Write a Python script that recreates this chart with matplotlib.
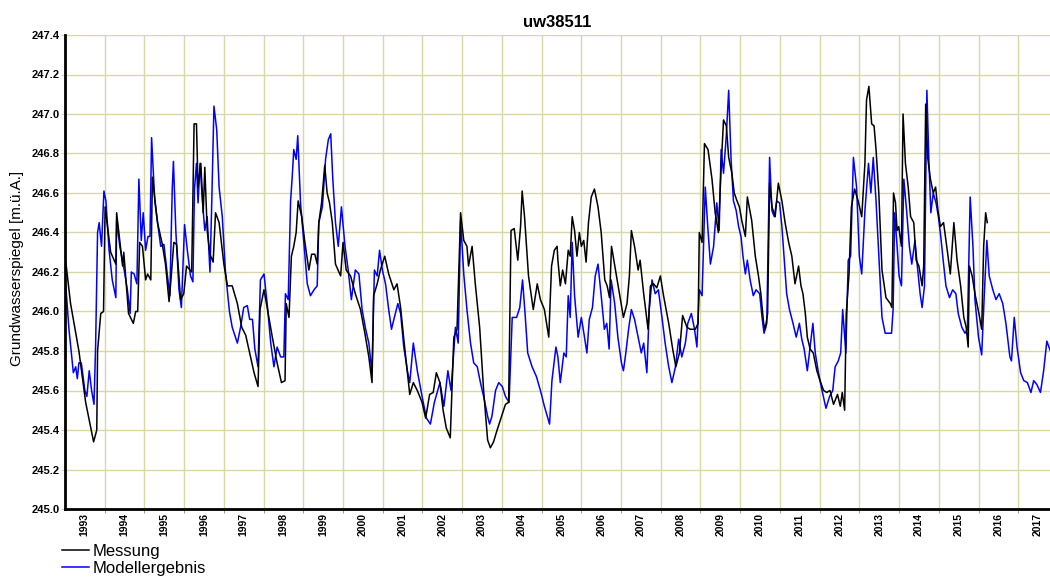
import numpy as np
import matplotlib
matplotlib.use("Agg")
import matplotlib.pyplot as plt

plt.rcParams['font.family'] = ['Liberation Sans', 'DejaVu Sans']

# Messung (decimal year, m.ü.A.)
mess_t = [1993.02, 1993.14, 1993.35, 1993.52, 1993.72, 1993.80, 1993.82, 1993.90, 1993.97, 1994.01,
          1994.15, 1994.28, 1994.30, 1994.45, 1994.48, 1994.60, 1994.72, 1994.78, 1994.83, 1994.88,
          1994.95, 1995.03, 1995.08, 1995.16, 1995.20, 1995.33, 1995.45, 1995.53, 1995.62, 1995.66,
          1995.74, 1995.81, 1995.91, 1995.99, 1996.06, 1996.19, 1996.25, 1996.31, 1996.35, 1996.42,
          1996.48, 1996.52, 1996.58, 1996.65, 1996.73, 1996.79, 1996.88, 1997.00, 1997.09, 1997.21,
          1997.34, 1997.45, 1997.55, 1997.65, 1997.76, 1997.86, 1997.91, 1998.01, 1998.09, 1998.22,
          1998.34, 1998.45, 1998.54, 1998.57, 1998.64, 1998.70, 1998.76, 1998.82, 1998.87, 1998.96,
          1999.04, 1999.14, 1999.21, 1999.29, 1999.35, 1999.39, 1999.46, 1999.49, 1999.54, 1999.60,
          1999.66, 1999.73, 1999.81, 1999.94, 2000.00, 2000.08, 2000.19, 2000.31, 2000.44, 2000.55,
          2000.65, 2000.73, 2000.77, 2000.86, 2000.94, 2001.05, 2001.15, 2001.28, 2001.36, 2001.45,
          2001.53, 2001.62, 2001.68, 2001.77, 2001.87, 2001.99, 2002.08, 2002.18, 2002.27, 2002.35,
          2002.44, 2002.52, 2002.60, 2002.70, 2002.79, 2002.87, 2002.96, 2003.04, 2003.12, 2003.16,
          2003.25, 2003.33, 2003.44, 2003.54, 2003.64, 2003.71, 2003.79, 2003.88, 2003.96, 2004.09,
          2004.17, 2004.23, 2004.31, 2004.40, 2004.47, 2004.51, 2004.57, 2004.67, 2004.79, 2004.89,
          2004.97, 2005.07, 2005.18, 2005.25, 2005.32, 2005.39, 2005.41, 2005.47, 2005.53, 2005.60,
          2005.67, 2005.72, 2005.77, 2005.83, 2005.89, 2005.95, 2006.00, 2006.06, 2006.12, 2006.18,
          2006.25, 2006.33, 2006.42, 2006.50, 2006.59, 2006.65, 2006.71, 2006.76, 2006.86, 2006.96,
          2007.06, 2007.15, 2007.21, 2007.26, 2007.34, 2007.43, 2007.48, 2007.57, 2007.68, 2007.74,
          2007.82, 2007.90, 2007.99, 2008.07, 2008.20, 2008.30, 2008.38, 2008.47, 2008.55, 2008.66,
          2008.74, 2008.87, 2008.94, 2008.97, 2009.04, 2009.10, 2009.19, 2009.29, 2009.37, 2009.45,
          2009.52, 2009.58, 2009.65, 2009.71, 2009.79, 2009.85, 2009.92, 2009.98, 2010.04, 2010.13,
          2010.18, 2010.29, 2010.38, 2010.46, 2010.52, 2010.59, 2010.63, 2010.69, 2010.74, 2010.80,
          2010.88, 2010.96, 2011.05, 2011.13, 2011.22, 2011.30, 2011.38, 2011.47, 2011.53, 2011.58,
          2011.64, 2011.69, 2011.76, 2011.84, 2011.93, 2012.01, 2012.10, 2012.18, 2012.26, 2012.35,
          2012.45, 2012.52, 2012.57, 2012.63, 2012.67, 2012.74, 2012.80, 2012.88, 2012.97, 2013.06,
          2013.14, 2013.18, 2013.24, 2013.31, 2013.37, 2013.42, 2013.49, 2013.57, 2013.67, 2013.78,
          2013.82, 2013.86, 2013.91, 2013.95, 2013.99, 2014.06, 2014.10, 2014.16, 2014.23, 2014.29,
          2014.37, 2014.43, 2014.50, 2014.58, 2014.62, 2014.67, 2014.72, 2014.79, 2014.86, 2014.92,
          2014.98, 2015.04, 2015.12, 2015.20, 2015.29, 2015.38, 2015.46, 2015.55, 2015.63, 2015.69,
          2015.74, 2015.77, 2015.84, 2015.92, 2016.01, 2016.08, 2016.13, 2016.18, 2016.22]
mess_v = [246.25, 246.04, 245.80, 245.54, 245.34, 245.40, 245.80, 245.99, 246.00, 246.53,
          246.30, 246.24, 246.50, 246.23, 246.30, 245.99, 245.94, 246.00, 246.00, 246.35,
          246.33, 246.16, 246.19, 246.16, 246.68, 246.45, 246.34, 246.24, 246.05, 246.14,
          246.35, 246.34, 246.06, 246.09, 246.23, 246.20, 246.95, 246.95, 246.63, 246.75,
          246.50, 246.73, 246.41, 246.29, 246.25, 246.50, 246.45, 246.24, 246.13, 246.13,
          246.04, 245.92, 245.88, 245.79, 245.69, 245.62, 246.01, 246.11, 246.02, 245.87,
          245.74, 245.64, 245.65, 246.04, 245.97, 246.28, 246.33, 246.40, 246.56, 246.48,
          246.35, 246.21, 246.29, 246.29, 246.24, 246.45, 246.55, 246.62, 246.74, 246.60,
          246.55, 246.45, 246.24, 246.18, 246.35, 246.21, 246.18, 246.09, 246.01, 245.89,
          245.77, 245.64, 246.08, 246.14, 246.21, 246.28, 246.19, 246.11, 246.14, 246.02,
          245.86, 245.69, 245.58, 245.64, 245.60, 245.54, 245.46, 245.58, 245.59, 245.69,
          245.64, 245.50, 245.41, 245.36, 245.87, 245.91, 246.50, 246.36, 246.33, 246.23,
          246.33, 246.14, 245.92, 245.60, 245.35, 245.31, 245.34, 245.40, 245.45, 245.53,
          245.54, 246.41, 246.42, 246.26, 246.43, 246.61, 246.48, 246.18, 246.01, 246.14,
          246.06, 246.01, 245.87, 246.23, 246.31, 246.33, 246.26, 246.13, 246.21, 246.14,
          246.31, 246.28, 246.48, 246.41, 246.28, 246.40, 246.33, 246.36, 246.25, 246.45,
          246.58, 246.62, 246.53, 246.40, 246.16, 246.13, 246.07, 246.33, 246.21, 246.09,
          245.97, 246.04, 246.18, 246.41, 246.33, 246.21, 246.26, 246.09, 245.91, 246.13,
          246.14, 246.12, 246.18, 246.08, 245.94, 245.81, 245.72, 245.79, 245.98, 245.92,
          245.91, 245.91, 245.94, 246.40, 246.35, 246.85, 246.82, 246.67, 246.50, 246.40,
          246.73, 246.97, 246.94, 246.78, 246.70, 246.60, 246.56, 246.53, 246.46, 246.38,
          246.58, 246.46, 246.28, 246.18, 246.09, 245.94, 245.91, 245.99, 246.65, 246.53,
          246.48, 246.65, 246.56, 246.45, 246.35, 246.28, 246.14, 246.23, 246.13, 246.09,
          245.99, 245.87, 245.81, 245.79, 245.70, 245.65, 245.60, 245.59, 245.60, 245.53,
          245.58, 245.52, 245.59, 245.50, 245.99, 246.19, 246.53, 246.62, 246.56, 246.48,
          246.75, 247.07, 247.14, 246.95, 246.94, 246.82, 246.60, 246.21, 246.07, 246.04,
          246.02, 246.60, 246.55, 246.41, 246.43, 246.33, 247.00, 246.75, 246.63, 246.48,
          246.45, 246.26, 246.23, 246.13, 246.23, 247.05, 246.78, 246.67, 246.60, 246.63,
          246.51, 246.43, 246.45, 246.33, 246.19, 246.45, 246.26, 246.13, 245.97, 245.92,
          245.82, 246.23, 246.18, 246.08, 245.99, 245.91, 246.33, 246.50, 246.45]

# Modellergebnis
mod_t = [1993.02, 1993.10, 1993.21, 1993.27, 1993.31, 1993.35, 1993.41, 1993.50, 1993.55, 1993.61,
         1993.67, 1993.73, 1993.77, 1993.82, 1993.86, 1993.92, 1993.98, 1994.03, 1994.11, 1994.19,
         1994.28, 1994.30, 1994.38, 1994.49, 1994.57, 1994.64, 1994.67, 1994.74, 1994.81, 1994.86,
         1994.92, 1994.97, 1995.03, 1995.09, 1995.14, 1995.18, 1995.26, 1995.33, 1995.41, 1995.49,
         1995.58, 1995.64, 1995.70, 1995.73, 1995.79, 1995.87, 1995.93, 1996.01, 1996.08, 1996.16,
         1996.22, 1996.26, 1996.31, 1996.35, 1996.40, 1996.46, 1996.52, 1996.58, 1996.65, 1996.69,
         1996.75, 1996.82, 1996.88, 1996.96, 1997.04, 1997.14, 1997.21, 1997.34, 1997.42, 1997.50,
         1997.59, 1997.65, 1997.72, 1997.78, 1997.86, 1997.92, 1998.01, 1998.09, 1998.18, 1998.26,
         1998.34, 1998.43, 1998.51, 1998.55, 1998.62, 1998.68, 1998.72, 1998.76, 1998.82, 1998.86,
         1998.93, 1999.01, 1999.10, 1999.18, 1999.27, 1999.35, 1999.39, 1999.48, 1999.56, 1999.63,
         1999.69, 1999.74, 1999.81, 1999.88, 1999.96, 2000.05, 2000.13, 2000.21, 2000.31, 2000.40,
         2000.48, 2000.57, 2000.65, 2000.73, 2000.79, 2000.86, 2000.92, 2000.99, 2001.07, 2001.15,
         2001.22, 2001.28, 2001.38, 2001.45, 2001.53, 2001.62, 2001.68, 2001.77, 2001.87, 2001.99,
         2002.10, 2002.20, 2002.30, 2002.44, 2002.54, 2002.64, 2002.72, 2002.83, 2002.90, 2002.96,
         2003.04, 2003.12, 2003.21, 2003.29, 2003.38, 2003.46, 2003.54, 2003.64, 2003.69, 2003.75,
         2003.84, 2003.92, 2004.01, 2004.09, 2004.18, 2004.26, 2004.37, 2004.45, 2004.52, 2004.59,
         2004.65, 2004.76, 2004.87, 2004.97, 2005.07, 2005.20, 2005.26, 2005.36, 2005.41, 2005.47,
         2005.56, 2005.62, 2005.67, 2005.72, 2005.77, 2005.83, 2005.92, 2006.00, 2006.08, 2006.14,
         2006.20, 2006.28, 2006.35, 2006.42, 2006.50, 2006.58, 2006.64, 2006.70, 2006.75, 2006.84,
         2006.92, 2007.01, 2007.06, 2007.12, 2007.19, 2007.26, 2007.34, 2007.43, 2007.51, 2007.57,
         2007.65, 2007.71, 2007.78, 2007.86, 2007.94, 2008.03, 2008.11, 2008.20, 2008.28, 2008.37,
         2008.45, 2008.53, 2008.62, 2008.68, 2008.77, 2008.85, 2008.91, 2008.97, 2009.04, 2009.12,
         2009.19, 2009.25, 2009.33, 2009.41, 2009.47, 2009.52, 2009.58, 2009.65, 2009.71, 2009.77,
         2009.83, 2009.90, 2009.96, 2010.02, 2010.07, 2010.13, 2010.18, 2010.25, 2010.33, 2010.40,
         2010.49, 2010.55, 2010.60, 2010.67, 2010.74, 2010.80, 2010.86, 2010.92, 2010.99, 2011.05,
         2011.11, 2011.17, 2011.24, 2011.33, 2011.41, 2011.49, 2011.55, 2011.61, 2011.69, 2011.76,
         2011.83, 2011.89, 2011.97, 2012.06, 2012.16, 2012.25, 2012.33, 2012.39, 2012.47, 2012.53,
         2012.58, 2012.66, 2012.72, 2012.78, 2012.85, 2012.93, 2013.00, 2013.06, 2013.14, 2013.23,
         2013.29, 2013.35, 2013.42, 2013.51, 2013.57, 2013.65, 2013.81, 2013.85, 2013.89, 2013.95,
         2014.00, 2014.06, 2014.12, 2014.19, 2014.26, 2014.32, 2014.40, 2014.46, 2014.53, 2014.58,
         2014.64, 2014.70, 2014.75, 2014.80, 2014.86, 2014.93, 2014.99, 2015.05, 2015.11, 2015.18,
         2015.27, 2015.35, 2015.43, 2015.49, 2015.58, 2015.66, 2015.72, 2015.79, 2015.86, 2015.91,
         2016.00, 2016.08, 2016.14, 2016.21, 2016.27, 2016.36, 2016.44, 2016.52, 2016.61, 2016.69,
         2016.79, 2016.83, 2016.90, 2016.97, 2017.06, 2017.14, 2017.23, 2017.32, 2017.39, 2017.47,
         2017.56, 2017.64, 2017.72, 2017.81]
mod_v = [246.13, 245.91, 245.69, 245.72, 245.66, 245.74, 245.74, 245.60, 245.57, 245.70,
         245.60, 245.53, 245.82, 246.40, 246.45, 246.33, 246.61, 246.56, 246.31, 246.16,
         246.07, 246.46, 246.33, 246.21, 246.11, 245.99, 246.20, 246.19, 246.14, 246.67,
         246.36, 246.50, 246.31, 246.38, 246.38, 246.88, 246.56, 246.45, 246.33, 246.34,
         246.18, 246.08, 246.62, 246.76, 246.41, 246.11, 246.02, 246.44, 246.31, 246.18,
         246.15, 246.62, 246.75, 246.55, 246.75, 246.56, 246.41, 246.48, 246.20, 246.51,
         247.04, 246.92, 246.63, 246.48, 246.20, 246.00, 245.92, 245.84, 245.92, 246.02,
         246.03, 245.96, 245.96, 245.81, 245.72, 246.16, 246.19, 246.04, 245.84, 245.72,
         245.82, 245.77, 245.77, 246.09, 246.06, 246.56, 246.68, 246.82, 246.77, 246.89,
         246.55, 246.36, 246.14, 246.08, 246.11, 246.13, 246.45, 246.53, 246.77, 246.87,
         246.90, 246.68, 246.45, 246.33, 246.53, 246.33, 246.21, 246.06, 246.21, 246.19,
         246.01, 245.91, 245.84, 245.69, 246.21, 246.18, 246.31, 246.21, 246.14, 246.01,
         245.91, 245.96, 246.04, 245.99, 245.82, 245.70, 245.64, 245.84, 245.70, 245.57,
         245.46, 245.43, 245.54, 245.64, 245.52, 245.70, 245.60, 245.92, 245.84, 246.46,
         246.19, 246.01, 245.84, 245.74, 245.72, 245.64, 245.57, 245.47, 245.43, 245.47,
         245.60, 245.64, 245.62, 245.57, 245.54, 245.97, 245.97, 246.02, 246.16, 245.97,
         245.79, 245.72, 245.67, 245.60, 245.52, 245.43, 245.65, 245.82, 245.77, 245.64,
         245.79, 245.77, 246.08, 245.97, 246.35, 246.08, 245.87, 245.97, 245.87, 245.79,
         245.96, 246.02, 246.18, 246.24, 246.08, 245.91, 245.94, 245.81, 246.16, 246.04,
         245.87, 245.74, 245.70, 245.79, 245.91, 246.01, 245.96, 245.87, 245.79, 245.84,
         245.69, 246.01, 246.16, 246.09, 246.11, 245.97, 245.84, 245.72, 245.64, 245.72,
         245.86, 245.77, 245.84, 245.94, 245.99, 245.91, 245.82, 246.11, 246.08, 246.63,
         246.41, 246.24, 246.33, 246.55, 246.41, 246.82, 246.70, 246.89, 247.12, 246.77,
         246.56, 246.51, 246.43, 246.38, 246.28, 246.19, 246.26, 246.16, 246.08, 246.11,
         246.09, 245.97, 245.89, 245.94, 246.78, 246.51, 246.48, 246.56, 246.55, 246.43,
         246.26, 246.09, 246.01, 245.94, 245.87, 245.94, 245.86, 245.81, 245.70, 245.82,
         245.94, 245.79, 245.69, 245.60, 245.51, 245.57, 245.60, 245.72, 245.75, 245.79,
         246.01, 245.79, 246.26, 246.28, 246.78, 246.63, 246.28, 246.19, 246.51, 246.75,
         246.60, 246.78, 246.56, 246.20, 245.97, 245.89, 245.89, 246.01, 246.50, 246.33,
         246.18, 246.13, 246.67, 246.51, 246.33, 246.24, 246.36, 246.23, 246.09, 246.02,
         246.13, 247.12, 246.77, 246.50, 246.60, 246.55, 246.48, 246.38, 246.26, 246.13,
         246.07, 246.11, 246.09, 245.99, 245.92, 245.89, 245.91, 246.58, 246.33, 246.06,
         245.87, 245.78, 246.06, 246.36, 246.18, 246.11, 246.06, 246.09, 246.04, 245.94,
         245.77, 245.75, 245.97, 245.82, 245.69, 245.65, 245.64, 245.59, 245.65, 245.63,
         245.59, 245.70, 245.85, 245.80]

years = list(range(1993, 2018))
y_ticks = [245.0, 245.2, 245.4, 245.6, 245.8, 246.0, 246.2, 246.4, 246.6, 246.8, 247.0, 247.2, 247.4]

fig = plt.figure(figsize=(10.5, 5.78), dpi=100)
ax = fig.add_axes([65 / 1050, 69 / 578, 985 / 1050, 474 / 578])

grid_col = '#d8d8a4'
l_mod, = ax.plot(mod_t, mod_v, color='#0000ff', lw=1.1, zorder=3, label='Modellergebnis')
l_mess, = ax.plot(mess_t, mess_v, color='black', lw=1.1, zorder=4, label='Messung')

ax.set_xlim(1993.0, 2017.8)
ax.set_ylim(245.0, 247.4)
ax.set_yticks(y_ticks)
ax.set_yticklabels(['%.1f' % v for v in y_ticks], fontsize=8, fontweight='bold')
ax.set_xticks([y + 0.5 for y in years])
ax.set_xticklabels([str(y) for y in years], rotation=90, fontsize=7.5, fontweight='bold')
ax.set_xticks(years[1:], minor=True)
ax.tick_params(axis='x', which='major', length=0, pad=3)
ax.tick_params(axis='x', which='minor', length=3, color='#888866')
ax.tick_params(axis='y', length=3, color=grid_col, pad=1)

ax.grid(False)
for y in years[1:]:
    ax.axvline(y, color=grid_col, lw=1, zorder=1)
for v in y_ticks[1:]:
    ax.axhline(v, color=grid_col, lw=1, zorder=1)

for s in ['top', 'right']:
    ax.spines[s].set_visible(False)
ax.spines['left'].set_linewidth(2)
ax.spines['bottom'].set_linewidth(2)
ax.spines['left'].set_zorder(5)
ax.spines['bottom'].set_zorder(5)

ax.set_title('uw38511', fontsize=12, fontweight='bold', pad=6)
fig.text(17 / 1050, 1 - 268 / 578, 'Grundwasserspiegel [m.\u00fc.A.]', rotation=90,
         fontsize=11, ha='center', va='center')

fig.legend([l_mess, l_mod], ['Messung', 'Modellergebnis'], loc='upper left',
           bbox_to_anchor=(62 / 1050, 1 - 544 / 578), frameon=False, fontsize=12,
           handlelength=1.6, handletextpad=0.25, labelspacing=0.12, borderpad=0,
           borderaxespad=0)

fig.savefig('out.png', dpi=100)
